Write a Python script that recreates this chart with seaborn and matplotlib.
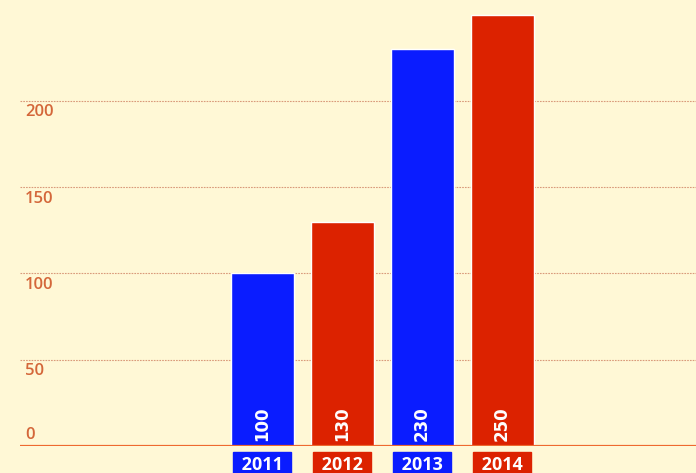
import matplotlib
matplotlib.use("Agg")
import matplotlib.pyplot as plt
import matplotlib.transforms as mtransforms
import seaborn as sns
import pandas as pd

years = ["2011", "2012", "2013", "2014"]
values = [100, 130, 230, 250]
colors = ["#0a1cff", "#dc2200", "#0a1cff", "#dc2200"]
yticks = [0, 50, 100, 150, 200]

bg = "#fff8d6"
tick_color = "#d4673a"

sns.set_theme(style="white")
plt.rcParams["font.family"] = ["Open Sans", "DejaVu Sans"]

fig = plt.figure(figsize=(6.96, 4.73), dpi=100, facecolor=bg)
ax = fig.add_axes([20 / 696, 27 / 473, 676 / 696, 446 / 473])
ax.set_facecolor(bg)

df = pd.DataFrame({"year": years, "value": values})
sns.barplot(data=df, x="year", y="value", hue="year", palette=colors,
            legend=False, width=0.7875, saturation=1, ax=ax, zorder=3)

ax.set_xlim(-3.025, 5.425)
ax.set_ylim(0, 258.5)
for s in ax.spines.values():
    s.set_visible(False)
ax.set_xticks([])
ax.set_yticks([])
ax.set_xlabel("")
ax.set_ylabel("")

for t in yticks:
    if t == 0:
        ax.axhline(0, color="#ee6a30", lw=1.6, zorder=4)
    else:
        ax.axhline(t, color="#d99a7a", lw=0.8, ls=(0, (1.5, 1)), zorder=1)

# y tick labels
for t in yticks:
    if t == 0:
        off = mtransforms.offset_copy(ax.get_yaxis_transform(), fig=fig, x=0, y=2, units="points")
        va = "bottom"
    else:
        off = mtransforms.offset_copy(ax.get_yaxis_transform(), fig=fig, x=0, y=-2.5, units="points")
        va = "top"
    ax.text(5 / 676, t, str(t), transform=off, ha="left", va=va,
            color=tick_color, fontsize=12, fontweight="semibold")

# bar value labels
for i, v in enumerate(values):
    off = mtransforms.offset_copy(ax.transData, fig=fig, x=0, y=16, units="points")
    ax.text(i, 0, str(v), transform=off, rotation=90, ha="center", va="center",
            color="white", fontsize=12, fontweight="bold",
            fontfamily=["Liberation Sans Narrow", "DejaVu Sans"], zorder=5)

# category labels in boxes
for i, (y, c) in enumerate(zip(years, colors)):
    tr = mtransforms.blended_transform_factory(ax.transData, fig.transFigure)
    ax.text(i, 8 / 473, " " + y + " ", transform=tr, ha="center", va="center",
            color="white", fontsize=13, fontweight="bold",
            bbox=dict(boxstyle="square,pad=0.2", facecolor=c, edgecolor=c),
            clip_on=False)

fig.savefig("out.png", dpi=100, facecolor=bg)
